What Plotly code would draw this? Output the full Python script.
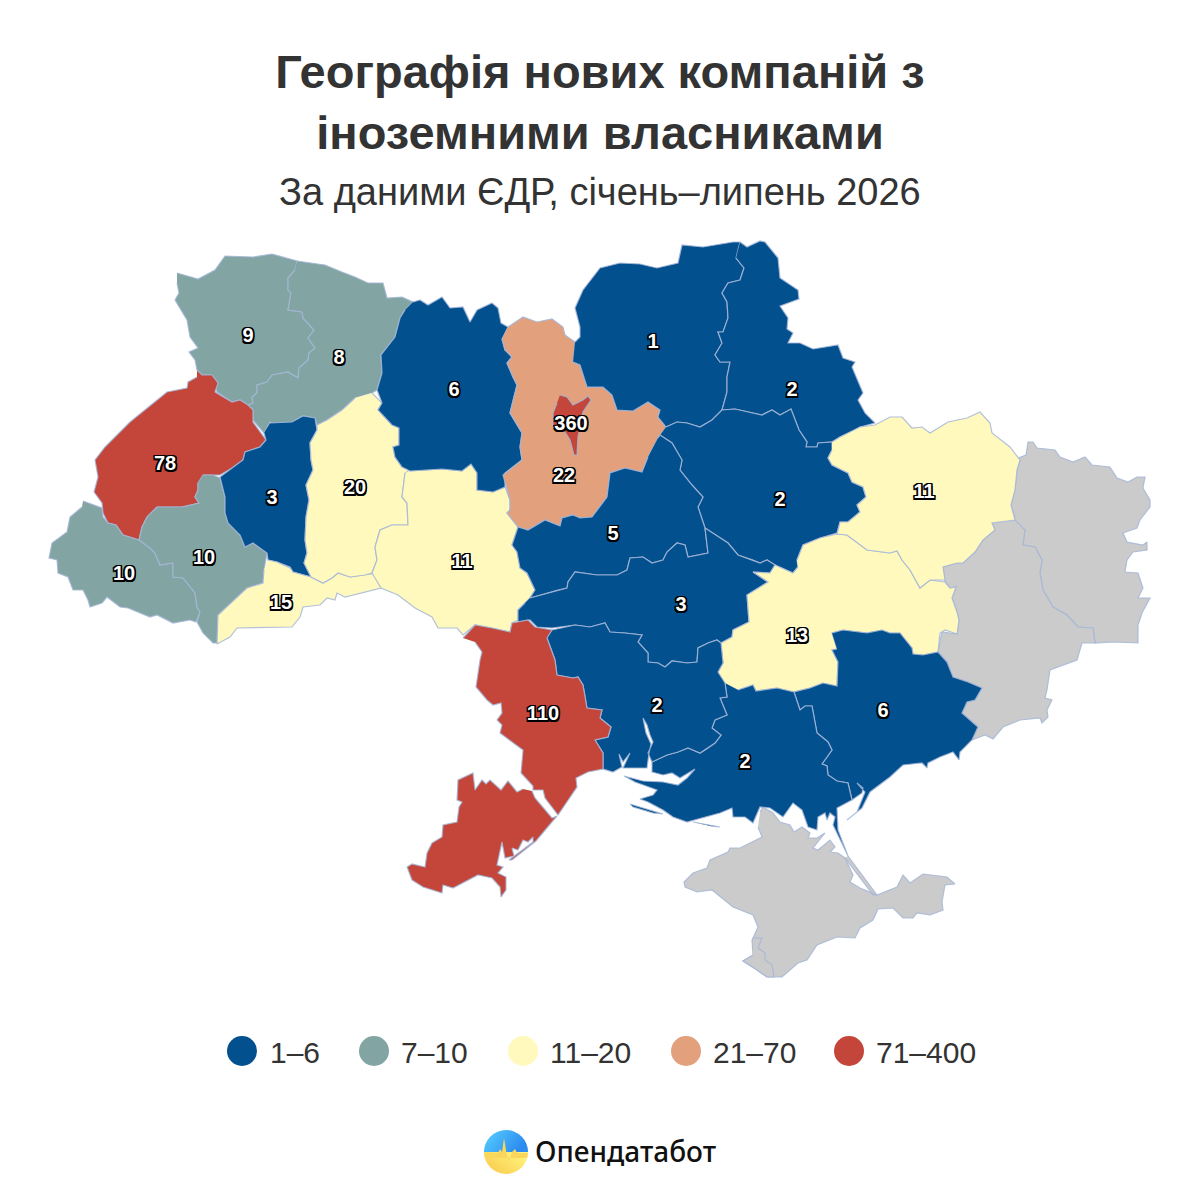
#!/usr/bin/env python3

import base64
import plotly.graph_objects as go

# outlines of the regions (map units, y goes down)
VOLYN = [(177,273),(198,279),(215,270),(225,256),(253,257),(272,254),(297,261),(295,270),(288,278),(288,290),(291,293),(288,310),(302,312),(303,318),(314,330),(308,338),(315,348),(309,353),(308,360),(299,368),(298,378),(288,372),(272,375),(267,382),(257,385),(257,393),(252,397),(253,403),(248,405),(240,400),(232,402),(217,392),(215,385),(218,383),(212,375),(202,375),(197,370),(195,360),(189,352),(198,348),(190,337),(187,320),(175,300),(179,293),(177,283)]
RIVNE = [(297,261),(325,265),(342,272),(355,277),(368,283),(383,283),(387,298),(402,297),(413,302),(405,310),(400,318),(395,337),(381,355),(382,373),(377,390),(372,393),(355,398),(342,410),(327,420),(317,425),(315,418),(303,416),(292,422),(273,423),(270,422),(264,433),(253,420),(253,410),(248,405),(253,403),(252,397),(257,393),(257,385),(267,382),(272,375),(288,372),(298,378),(299,368),(308,360),(309,353),(315,348),(308,338),(314,330),(303,318),(302,312),(288,310),(291,293),(288,290),(288,278),(295,270)]
LVIV = [(197,370),(202,375),(212,375),(218,383),(215,392),(232,402),(240,400),(248,405),(253,410),(253,422),(266,440),(260,447),(245,452),(243,460),(232,468),(220,475),(210,475),(203,475),(198,483),(198,490),(195,497),(199,503),(182,507),(157,507),(147,517),(142,527),(139,540),(123,535),(116,525),(108,523),(103,513),(102,503),(94,492),(98,477),(95,460),(105,447),(130,422),(167,392),(187,388),(188,382),(197,377)]
ZAKARPATTIA = [(83,501),(102,508),(103,517),(108,523),(116,525),(123,535),(139,540),(150,548),(155,553),(160,565),(173,563),(173,577),(183,578),(195,593),(197,607),(200,612),(196,622),(190,620),(173,623),(157,615),(150,617),(128,608),(120,607),(107,597),(102,603),(90,607),(88,600),(83,590),(73,590),(68,577),(58,573),(57,560),(49,558),(52,543),(67,532),(70,517),(82,507)]
IVANO_FRANKIVSK = [(203,475),(213,475),(220,478),(225,497),(225,513),(228,523),(240,535),(245,547),(253,543),(267,553),(264,570),(263,583),(247,588),(232,602),(218,615),(217,643),(213,643),(203,633),(197,622),(200,612),(197,607),(195,593),(183,578),(173,577),(173,563),(160,565),(155,553),(150,548),(139,540),(142,527),(147,517),(157,507),(182,507),(199,503),(195,497),(198,490),(198,483)]
TERNOPIL = [(270,423),(292,422),(303,416),(315,418),(317,430),(310,443),(311,460),(313,470),(306,485),(309,500),(306,517),(305,540),(307,553),(304,563),(311,577),(293,572),(290,567),(277,562),(268,560),(267,553),(253,543),(245,547),(240,535),(228,523),(225,513),(225,497),(220,477),(232,468),(243,460),(245,452),(260,447),(266,440),(264,433)]
CHERNIVTSI = [(268,560),(277,562),(290,568),(293,572),(311,577),(323,583),(332,578),(338,573),(350,577),(365,575),(377,573),(381,588),(373,590),(360,593),(345,597),(337,593),(335,600),(327,598),(320,605),(303,607),(300,617),(292,627),(260,628),(237,628),(230,637),(217,644),(218,615),(232,602),(247,588),(263,583),(264,570)]
KHMELNYTSKYI = [(372,393),(382,403),(378,410),(392,425),(399,428),(399,445),(393,447),(395,457),(402,467),(410,470),(405,473),(402,497),(407,503),(408,525),(392,525),(380,530),(375,547),(377,560),(372,573),(365,575),(350,577),(338,573),(332,578),(323,583),(311,577),(304,563),(307,553),(305,540),(306,517),(309,500),(306,485),(313,470),(311,460),(310,443),(317,430),(317,425),(327,420),(342,410),(355,398)]
VINNYTSIA = [(410,471),(442,469),(462,471),(471,464),(477,473),(477,490),(493,492),(505,487),(510,500),(510,510),(507,513),(518,527),(512,545),(517,552),(520,568),(527,573),(535,590),(530,598),(525,603),(518,610),(518,620),(512,623),(510,632),(492,628),(475,625),(463,635),(457,628),(438,628),(432,617),(415,608),(398,595),(381,588),(372,573),(377,560),(375,547),(380,530),(392,525),(408,525),(407,503),(402,497),(405,473)]
ZHYTOMYR = [(413,302),(420,300),(428,305),(442,297),(450,308),(463,307),(470,322),(477,310),(492,303),(498,308),(501,323),(508,327),(502,339),(505,350),(512,357),(507,363),(513,377),(517,385),(510,413),(522,433),(520,447),(522,460),(505,473),(505,487),(493,492),(477,490),(477,473),(471,464),(462,471),(442,469),(410,471),(402,467),(395,457),(393,447),(399,445),(399,428),(392,425),(378,410),(382,403),(377,390),(382,373),(381,355),(395,337),(400,318),(405,310)]
KYIV_REGION = [(508,327),(523,317),(537,322),(552,319),(563,327),(565,335),(575,342),(573,362),(580,365),(587,387),(603,387),(612,395),(617,410),(633,411),(648,402),(660,410),(658,417),(666,427),(658,438),(648,457),(642,472),(625,468),(610,473),(607,497),(592,517),(580,518),(573,515),(562,518),(560,526),(545,520),(528,530),(518,527),(507,513),(510,510),(510,500),(505,482),(503,475),(522,460),(520,447),(522,433),(510,413),(517,385),(513,377),(507,363),(512,357),(505,350),(502,339)]
KYIV_CITY = [(560,395),(567,397),(573,405),(583,400),(588,396),(591,400),(583,412),(580,427),(578,437),(577,455),(574,455),(570,440),(565,432),(553,427),(553,413),(557,403)]
CHERNIHIV = [(575,342),(580,337),(580,327),(575,308),(583,290),(600,268),(620,263),(640,264),(657,268),(678,263),(682,245),(703,247),(733,242),(740,242),(736,258),(744,268),(740,280),(728,283),(722,293),(727,302),(728,318),(723,332),(718,332),(722,343),(715,355),(720,362),(730,362),(727,377),(727,392),(722,410),(712,420),(700,427),(687,423),(677,422),(666,427),(658,417),(660,410),(648,402),(633,411),(617,410),(612,395),(603,387),(587,387),(580,365),(573,362)]
SUMY = [(740,242),(747,247),(760,241),(765,242),(778,258),(780,278),(798,290),(799,299),(780,306),(788,318),(787,329),(793,333),(788,343),(800,343),(813,349),(838,345),(843,358),(855,362),(852,367),(863,393),(858,400),(865,413),(875,423),(860,427),(855,430),(840,437),(832,442),(818,443),(817,447),(806,447),(807,442),(799,430),(791,409),(780,415),(772,410),(762,415),(735,409),(722,410),(727,392),(727,377),(730,362),(720,362),(715,355),(722,343),(718,332),(723,332),(728,318),(727,302),(722,293),(728,283),(740,280),(744,268),(736,258)]
POLTAVA = [(666,427),(677,422),(687,423),(700,427),(712,420),(722,410),(735,409),(762,415),(772,410),(780,415),(791,409),(799,430),(807,442),(806,447),(817,447),(818,443),(832,442),(832,450),(828,458),(832,465),(848,473),(852,482),(863,487),(866,497),(857,505),(860,512),(848,522),(840,522),(837,533),(820,538),(803,545),(797,560),(798,567),(793,573),(775,565),(767,560),(760,563),(753,560),(738,555),(728,543),(705,528),(698,507),(703,497),(692,485),(680,470),(682,460),(672,443),(660,435),(658,438)]
CHERKASY = [(658,438),(660,435),(672,443),(682,460),(680,470),(692,485),(703,497),(698,507),(705,528),(708,553),(688,557),(685,545),(677,543),(667,552),(663,560),(652,563),(643,557),(630,558),(627,570),(617,575),(597,575),(575,572),(568,582),(567,588),(558,590),(530,598),(535,590),(527,573),(520,568),(517,552),(512,545),(518,527),(528,530),(545,520),(560,526),(562,518),(573,515),(580,518),(592,517),(607,497),(610,473),(625,468),(642,472),(648,457)]
KIROVOHRAD = [(530,598),(558,590),(567,588),(568,582),(575,572),(597,575),(617,575),(627,570),(630,558),(643,557),(652,563),(663,560),(667,552),(677,543),(685,545),(688,557),(708,553),(705,528),(728,543),(738,555),(753,560),(760,563),(767,560),(775,565),(770,573),(753,572),(768,582),(747,595),(749,622),(733,630),(732,637),(721,643),(717,640),(708,643),(698,648),(697,662),(687,663),(672,661),(665,667),(658,663),(648,662),(648,653),(638,642),(642,635),(625,633),(610,632),(605,623),(590,627),(575,625),(552,628),(537,627),(530,620),(518,622),(518,610),(525,603)]
DNIPROPETROVSK = [(797,560),(803,545),(820,538),(837,534),(847,535),(867,550),(890,553),(897,551),(902,560),(910,570),(920,588),(930,580),(945,582),(950,588),(956,587),(952,598),(957,612),(959,620),(957,634),(945,630),(940,633),(938,652),(923,655),(913,654),(912,648),(900,633),(890,633),(882,630),(867,633),(843,630),(832,633),(837,649),(832,650),(838,662),(837,686),(823,683),(810,688),(793,692),(777,688),(756,691),(753,685),(738,690),(720,682),(718,672),(723,663),(721,643),(732,637),(733,630),(749,622),(747,595),(768,582),(753,572),(770,573),(775,565),(793,573),(798,567)]
KHARKIV = [(832,442),(840,437),(860,427),(875,425),(890,417),(902,417),(912,428),(922,427),(930,433),(948,422),(967,418),(980,412),(990,423),(992,433),(1010,447),(1020,460),(1017,470),(1015,490),(1011,505),(1015,520),(992,523),(995,530),(983,540),(975,552),(963,563),(957,563),(943,567),(945,580),(930,580),(920,588),(910,570),(902,560),(897,551),(890,553),(867,550),(847,535),(837,534),(840,522),(848,522),(860,512),(857,505),(866,497),(863,487),(852,482),(848,473),(832,465),(828,458),(832,450)]
LUHANSK = [(1018,458),(1026,455),(1028,442),(1033,442),(1037,448),(1055,450),(1060,457),(1073,462),(1085,457),(1092,465),(1110,467),(1117,478),(1128,482),(1137,477),(1145,477),(1143,488),(1150,500),(1150,507),(1140,520),(1137,528),(1123,533),(1127,542),(1143,545),(1147,542),(1147,550),(1133,552),(1127,560),(1125,572),(1138,573),(1143,588),(1138,598),(1150,598),(1142,613),(1138,625),(1138,643),(1113,642),(1095,643),(1093,628),(1078,627),(1067,615),(1053,607),(1043,590),(1040,573),(1042,560),(1035,547),(1023,545),(1025,530),(1015,527),(1012,520),(1015,517),(1011,505),(1015,490),(1017,470),(1020,460)]
DONETSK = [(1015,520),(1025,530),(1023,545),(1035,547),(1042,560),(1040,573),(1043,590),(1053,607),(1067,615),(1078,627),(1093,628),(1095,643),(1082,643),(1077,660),(1050,670),(1047,690),(1045,698),(1052,700),(1047,710),(1048,717),(1042,723),(1040,718),(1020,720),(1003,727),(993,739),(985,735),(972,740),(978,727),(962,713),(967,702),(975,700),(982,688),(968,682),(953,677),(947,662),(938,652),(942,632),(957,634),(959,620),(957,612),(952,598),(956,587),(950,588),(945,582),(943,567),(957,563),(963,563),(975,552),(983,540),(995,530),(992,523)]
ZAPORIZHZHIA = [(832,633),(843,630),(867,633),(882,630),(890,633),(900,633),(912,648),(913,654),(923,655),(938,652),(947,662),(953,677),(968,682),(982,688),(975,700),(967,702),(962,713),(978,727),(972,740),(960,752),(959,760),(953,752),(940,757),(928,763),(927,768),(922,763),(903,765),(890,777),(870,792),(862,808),(847,820),(857,812),(865,792),(857,783),(863,788),(862,793),(852,800),(848,783),(837,781),(828,775),(827,766),(822,764),(832,750),(828,742),(817,733),(812,706),(805,706),(800,710),(794,692),(810,688),(823,683),(837,686),(838,662),(832,650),(837,649)]
KHERSON = [(725,683),(727,697),(720,698),(727,715),(715,720),(712,728),(721,735),(715,743),(705,750),(700,753),(688,748),(678,752),(667,755),(652,762),(652,772),(663,775),(672,773),(680,778),(695,769),(687,778),(678,785),(663,782),(643,781),(624,776),(635,782),(657,790),(653,795),(640,799),(648,802),(663,810),(673,817),(687,822),(720,813),(732,808),(733,817),(745,817),(753,823),(760,807),(770,808),(783,817),(793,803),(802,810),(808,827),(817,830),(818,817),(825,813),(827,820),(830,813),(835,817),(833,825),(848,856),(838,830),(837,808),(852,800),(848,783),(837,781),(828,775),(827,766),(822,764),(832,750),(828,742),(817,733),(812,706),(805,706),(800,710),(794,692),(777,688),(756,691),(753,685),(738,690),None,(630,804),(663,814),(653,813),(633,807),None,(693,822),(720,827),(710,826)]
MYKOLAIV = [(552,630),(575,625),(590,627),(605,623),(610,632),(625,633),(642,635),(638,642),(648,653),(648,662),(658,663),(665,667),(672,661),(687,663),(697,662),(698,648),(708,643),(717,640),(721,643),(723,663),(718,672),(725,683),(727,697),(720,698),(727,715),(715,720),(712,728),(721,735),(715,743),(705,750),(700,753),(688,748),(678,752),(667,755),(652,762),(648,753),(653,742),(650,735),(647,725),(643,718),(646,733),(651,744),(649,753),(647,768),(623,768),(630,753),(623,762),(619,754),(622,767),(613,772),(603,769),(603,753),(595,740),(608,737),(611,727),(600,718),(602,710),(587,708),(583,685),(578,677),(573,678),(557,675),(555,660),(547,638)]
ODESA = [(463,638),(475,625),(492,628),(510,632),(512,623),(528,620),(535,627),(552,630),(547,638),(555,660),(557,675),(573,678),(578,677),(583,685),(587,708),(602,710),(600,718),(611,727),(608,737),(595,740),(603,753),(603,769),(588,772),(576,778),(577,787),(568,800),(558,815),(545,798),(543,790),(533,790),(533,786),(521,773),(523,750),(512,742),(500,733),(502,725),(497,720),(502,713),(501,703),(493,705),(487,700),(476,687),(480,660),(482,652),(475,642),None,(532,791),(535,798),(552,818),(557,816),(536,841),(512,860),(509,860),(533,842),(533,837),(528,842),(523,840),(518,850),(512,848),(514,856),(505,858),(502,842),(497,865),(503,867),(498,873),(506,877),(506,890),(501,897),(500,887),(492,878),(478,875),(453,888),(443,885),(442,893),(423,887),(412,880),(407,867),(412,864),(425,867),(427,853),(432,843),(442,837),(443,825),(457,822),(459,807),(462,802),(457,800),(458,780),(473,773),(475,790),(482,780),(486,784),(490,780),(501,790),(508,781),(517,792),(523,789)]
CRIMEA = [(760,812),(763,807),(773,813),(780,822),(790,825),(794,832),(802,827),(810,833),(808,838),(817,838),(825,833),(813,848),(818,850),(830,840),(835,847),(830,852),(838,853),(845,858),(853,875),(850,882),(860,888),(877,895),(897,887),(903,875),(910,883),(923,874),(947,877),(955,884),(945,885),(942,902),(943,910),(930,915),(917,913),(913,918),(903,918),(893,908),(878,909),(873,920),(860,928),(855,938),(837,937),(817,945),(807,960),(798,963),(782,977),(767,977),(757,970),(743,961),(753,955),(752,940),(758,927),(753,915),(733,907),(712,890),(697,892),(685,887),(684,882),(693,873),(707,868),(710,860),(728,852),(730,848),(740,848),(762,837),(758,827),None,(848,856),(877,895),(873,895),(845,858)]
SEVASTOPOL = [(753,938),(762,938),(758,948),(765,953),(765,960),(772,965),(774,977),(767,977),(757,970),(743,961),(753,955)]

REGION_NAMES = ['Волинська', 'Рівненська', 'Львівська', 'Закарпатська', 'Івано-Франківська', 'Тернопільська', 'Чернівецька', 'Хмельницька', 'Вінницька', 'Житомирська', 'Київська', 'Київ', 'Чернігівська', 'Сумська', 'Полтавська', 'Черкаська', 'Кіровоградська', 'Дніпропетровська', 'Харківська', 'Запорізька', 'Херсонська', 'Миколаївська', 'Одеська']
REGION_SHAPES = [VOLYN, RIVNE, LVIV, ZAKARPATTIA, IVANO_FRANKIVSK, TERNOPIL, CHERNIVTSI, KHMELNYTSKYI, VINNYTSIA, ZHYTOMYR, KYIV_REGION, KYIV_CITY, CHERNIHIV, SUMY, POLTAVA, CHERKASY, KIROVOHRAD, DNIPROPETROVSK, KHARKIV, ZAPORIZHZHIA, KHERSON, MYKOLAIV, ODESA]
REGION_VALUES = [9, 8, 78, 10, 10, 3, 15, 20, 11, 6, 22, 360, 1, 2, 2, 5, 3, 13, 11, 6, 2, 2, 110]
LABEL_X = [248, 339, 165, 124, 204, 272, 281, 355, 462, 454, 564, 571, 653, 792, 780, 613, 681, 797, 924, 883, 745, 657, 543]
LABEL_Y = [337, 359, 465, 575, 559, 499, 604, 489, 563, 391, 477, 425, 343, 391, 501, 535, 606, 637, 493, 712, 763, 707, 715]

NO_DATA_NAMES = ['Луганська', 'Донецька', 'АР Крим', 'Севастополь']
NO_DATA_SHAPES = [LUHANSK, DONETSK, CRIMEA, SEVASTOPOL]

BIN_LABELS = ['1–6', '7–10', '11–20', '21–70', '71–400']
BIN_TOPS = [6, 10, 20, 70, 400]
BIN_COLORS = ['#03508f', '#82a5a3', '#fff9bd', '#e2a07c', '#c4463a']
NO_DATA_COLOR = '#cbcbcb'
BORDER = 'rgba(165,182,215,0.85)'
TEXT = '#333333'

LEGEND_DOT_X = [242, 374, 523, 686, 849]
LEGEND_TEXT_X = [270, 401, 550, 713, 876]
LEGEND_DOT_Y = 1051
LEGEND_TEXT_Y = 1055

OUTLINE_SHADOW = ', '.join(f'{a}px {b}px 0.5px #000' for a in (-1.5, 0, 1.5) for b in (-1.5, 0, 1.5) if a or b)

LOGO = '''<svg xmlns="http://www.w3.org/2000/svg" width="88" height="88" viewBox="0 0 44 44">
<defs>
<linearGradient id="b" x1="0" y1="0" x2="1" y2="0.4"><stop offset="0" stop-color="#5ad2ff"/><stop offset="1" stop-color="#2b8bef"/></linearGradient>
<linearGradient id="y" x1="0" y1="1" x2="1" y2="0.3"><stop offset="0" stop-color="#f8c748"/><stop offset="1" stop-color="#fff27c"/></linearGradient>
<clipPath id="c"><circle cx="22" cy="22" r="22"/></clipPath>
</defs>
<g clip-path="url(#c)">
<rect width="44" height="22" fill="url(#b)"/>
<rect y="22" width="44" height="22" fill="url(#y)"/>
<path d="M0 23 L14 23 L16 19 L18 22 L20 8 L23 26 L25 32 L28 22 L31 19 L33 23 L44 23 L44 28 L0 28 Z" fill="#f9d65c"/>
</g></svg>'''


def unzip(shape):
    x = [p[0] if p else None for p in shape]
    y = [p[1] if p else None for p in shape]
    return x, y


def color_for(value):
    for top, color in zip(BIN_TOPS, BIN_COLORS):
        if value <= top:
            return color
    return BIN_COLORS[-1]


fig = go.Figure()

for name, shape in zip(NO_DATA_NAMES, NO_DATA_SHAPES):
    x, y = unzip(shape)
    fig.add_trace(go.Scatter(
        x=x, y=y, name=name, mode='lines', fill='toself',
        fillcolor=NO_DATA_COLOR, line=dict(color=BORDER, width=1.2),
        hoverinfo='name', showlegend=False,
    ))

for name, shape, value in zip(REGION_NAMES, REGION_SHAPES, REGION_VALUES):
    x, y = unzip(shape)
    fig.add_trace(go.Scatter(
        x=x, y=y, name=name, mode='lines', fill='toself',
        fillcolor=color_for(value), line=dict(color=BORDER, width=1.2),
        text=f'{name}: {value}', hoverinfo='text', showlegend=False,
    ))

# value labels, white with a black outline
fig.add_trace(go.Scatter(
    x=LABEL_X, y=LABEL_Y, mode='text', text=[str(v) for v in REGION_VALUES],
    textposition='middle center', hoverinfo='skip', showlegend=False,
    textfont=dict(family='Liberation Sans', size=20, color='white', weight='bold', shadow=OUTLINE_SHADOW),
))

# legend row
fig.add_trace(go.Scatter(
    x=LEGEND_DOT_X, y=[LEGEND_DOT_Y] * len(BIN_LABELS), mode='markers',
    marker=dict(size=30, color=BIN_COLORS, line=dict(width=0)),
    hoverinfo='skip', showlegend=False,
))
fig.add_trace(go.Scatter(
    x=LEGEND_TEXT_X, y=[LEGEND_TEXT_Y] * len(BIN_LABELS), mode='text', text=BIN_LABELS,
    textposition='middle right', hoverinfo='skip', showlegend=False,
    textfont=dict(family='Liberation Sans', size=30, color=TEXT),
))

fig.update_layout(
    width=1200,
    height=1200,
    margin=dict(l=0, r=0, t=0, b=0),
    paper_bgcolor='white',
    plot_bgcolor='white',
    font=dict(family='Liberation Sans', color=TEXT),
    xaxis=dict(range=[0, 1200], visible=False, fixedrange=True),
    yaxis=dict(range=[1200, 0], visible=False, fixedrange=True),
    title=dict(
        text='<b>Географія нових компаній з<br>іноземними власниками</b>',
        font=dict(size=47, color=TEXT),
        x=0.5, xanchor='center', y=1 - 88 / 1200, yanchor='top',
    ),
    annotations=[
        dict(
            text='За даними ЄДР, січень–липень 2026', x=600, y=192,
            xref='x', yref='y', showarrow=False, xanchor='center', yanchor='middle',
            font=dict(size=38, color=TEXT),
        ),
        dict(
            text='Опендатабот', x=533, y=1151,
            xref='x', yref='y', showarrow=False, xanchor='left', yanchor='middle',
            font=dict(family='Noto Sans', size=28, color='#111111', weight=500),
        ),
    ],
    images=[dict(
        source='data:image/svg+xml;base64,' + base64.b64encode(LOGO.encode()).decode(),
        xref='x', yref='y', x=484, y=1130, sizex=44, sizey=44,
        xanchor='left', yanchor='top', sizing='stretch', layer='above',
    )],
)

fig.write_html('out.html', config=dict(displayModeBar=False),
               post_script="document.body.style.margin='0';document.body.style.overflow='hidden';")
